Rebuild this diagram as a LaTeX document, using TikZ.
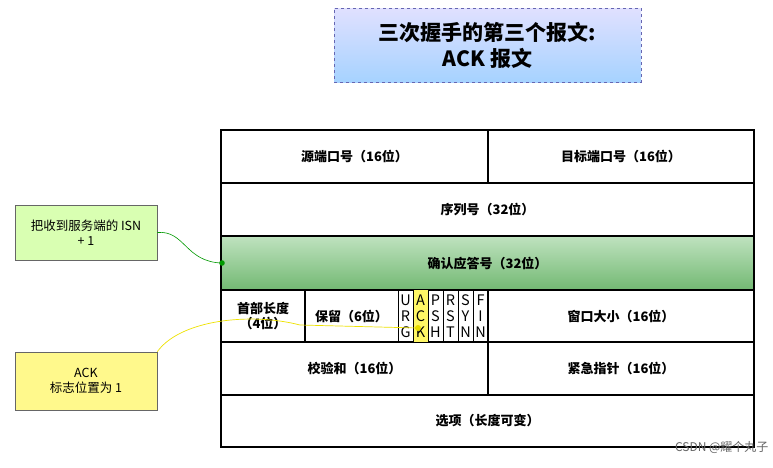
\documentclass[tikz,border=0pt]{standalone}
\usepackage{fontspec}
\setmainfont{Noto Sans CJK SC}
\tikzset{
 cell/.style={draw=black,line width=1.1pt,inner sep=0pt},
 lbl/.style={font=\bfseries\fontsize{13}{15}\selectfont},
 flag/.style={font=\fontsize{14.5}{16}\selectfont,align=center,inner sep=0pt},
 note/.style={draw=black!60,line width=0.6pt,align=center,font=\fontsize{12.5}{15}\selectfont},
}
\begin{document}
\begin{tikzpicture}[x=1pt,y=-1pt]
\useasboundingbox[fill=white] (0,0) rectangle (773,467);
% title
\node[draw=blue!50!black!60,dashed,line width=1pt,top color=blue!12!white,bottom color=blue!50!cyan!35!white,minimum width=307pt,minimum height=74pt,align=center,font=\bfseries\fontsize{21}{26}\selectfont] (title) at (487.5,45) {三次握手的第三个报文:\\\itshape ACK 报文};
% green row
\path[cell,top color=green!55!black!25!white,bottom color=green!50!black!55!white] (221,236) rectangle (754,290);
% rows
\draw[cell] (221,130) rectangle (754,447);
\foreach \y in {183,236,290,342,395}{\draw[line width=1.1pt] (221,\y) -- (754,\y);}
\draw[line width=1.1pt] (488,130) -- (488,183);
\fill[yellow!60] (413,290) rectangle (428,342);
\draw[line width=1.1pt] (488,290) -- (488,395);
\draw[line width=1.1pt] (305,290) -- (305,342);
\foreach \x in {398,413,428,443,458,473}{\draw[line width=0.9pt] (\x,290) -- (\x,342);}
\node[lbl] (src) at (354.5,156.5) {源端口号（16位）};
\node[lbl] (dst) at (621,156.5) {目标端口号（16位）};
\node[lbl] (seq) at (487.5,209.5) {序列号（32位）};
\node[lbl] (ackn) at (487.5,263) {确认应答号（32位）};
\node[lbl,align=center] (hl) at (263,316) {首部长度\\（4位）};
\node[lbl] (res) at (351.5,316) {保留（6位）};
\foreach \n/\t [count=\i from 0] in {urg/U\\R\\G,ack/A\\C\\K,psh/P\\S\\H,rst/R\\S\\T,syn/S\\Y\\N,fin/F\\I\\N}{
  \node[flag] (\n) at (405.5+15*\i,316) {\t};}
\node[lbl] (win) at (621,316) {窗口大小（16位）};
\node[lbl] (chk) at (354.5,368.5) {校验和（16位）};
\node[lbl] (urp) at (621,368.5) {紧急指针（16位）};
\node[lbl] (opt) at (487.5,421) {选项（长度可变）};
% notes
\node[note,fill=green!50!yellow!30!white,minimum width=142pt,minimum height=55pt] (n1) at (86,232.5) {把收到服务端的 ISN\\+ 1};
\node[note,fill=yellow!45,minimum width=142pt,minimum height=58pt] (n2) at (86,381) {ACK\\标志位置为 1};
\coordinate (g) at (222,263);
\coordinate (k) at (418,328);
\draw[green!60!black,line width=0.6pt] (n1.east) .. controls (185,230) and (185,262) .. (g);
\fill[green!60!black] (g) circle (2.8pt);
\draw[yellow!85!olive,line width=0.7pt] (n2.north east) .. controls (180,320) and (250,312) .. (300,325) -- (k);
\fill[yellow!80!olive] (k) circle (3pt);
\node[font=\fontsize{12}{14}\selectfont,text=black!60,anchor=east] (wm) at (772,447) {CSDN @耀个丸子~};
\end{tikzpicture}
\end{document}
